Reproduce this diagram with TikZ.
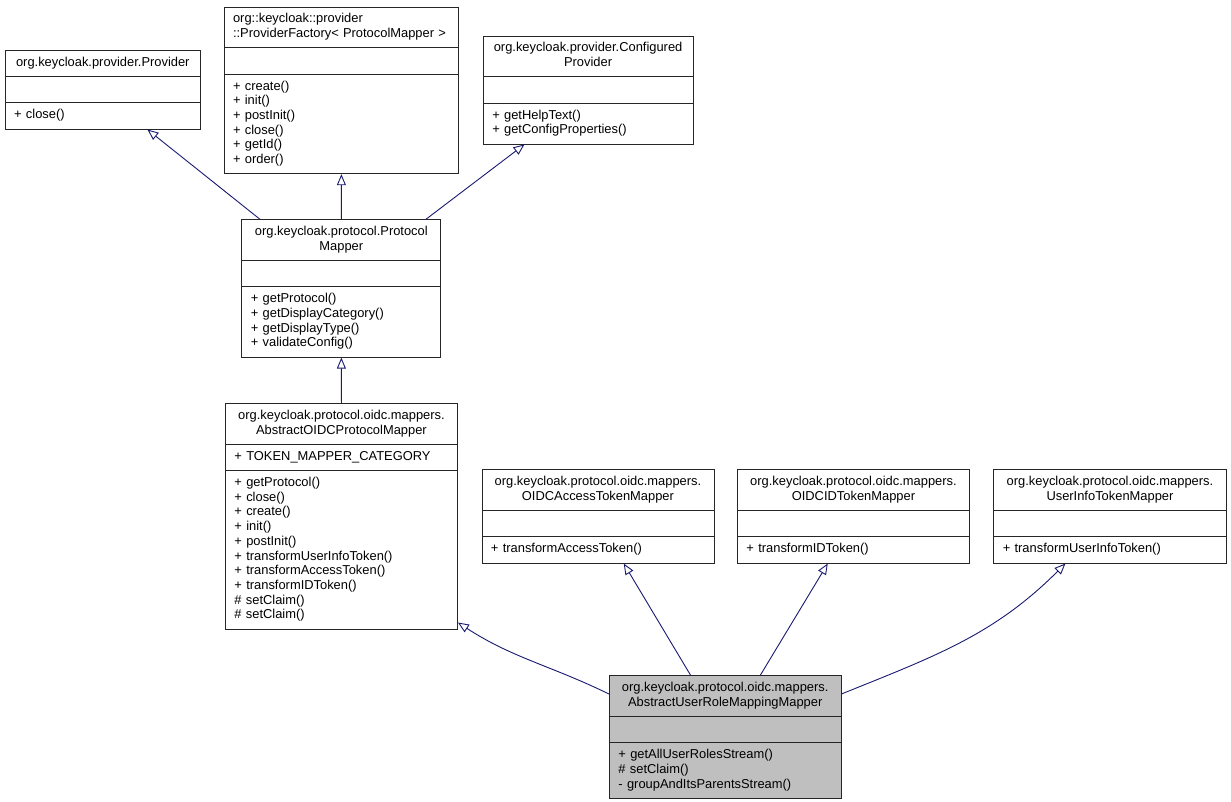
\documentclass[tikz,border=0pt]{standalone}
\usepackage{fontspec}
\setmainfont{Liberation Sans}
\usepackage{tikz}
\usetikzlibrary{shapes.multipart,arrows.meta}
\definecolor{edgeblue}{HTML}{191970}
\definecolor{classgray}{HTML}{BFBFBF}
\newcommand{\umlpart}[1]{\strut#1\strut\par}

\begin{document}
\begin{tikzpicture}[x=1pt, y=-1pt,
	umlclass/.style={rectangle split, rectangle split parts=3, draw=black!85, line width=0.9pt, anchor=north west, inner xsep=9pt, inner ysep=5.3pt, font=\fontsize{12.9}{14.7}\selectfont},
	inherit/.style={color=edgeblue, line width=0.9pt, -{Triangle[open, length=11pt, width=9pt]}}
	]
	\useasboundingbox (0,0) rectangle (1231,801);
	\node[umlclass, text width=177.3pt] (prov) at (4.7,50)
		{\centering\umlpart{org.keycloak.provider.Provider}
		\nodepart{two}\umlpart{}
		\nodepart{three}\umlpart{+ close()}};
	\node[umlclass, text width=216.7pt] (pfac) at (223.6,6.5)
		{\umlpart{org::keycloak::provider\\::ProviderFactory< ProtocolMapper >}
		\nodepart{two}\umlpart{}
		\nodepart{three}\umlpart{+ create()\\+ init()\\+ postInit()\\+ close()\\+ getId()\\+ order()}};
	\node[umlclass, text width=191.7pt] (cprov) at (482.8,35.5)
		{\centering\umlpart{org.keycloak.provider.Configured\\Provider}
		\nodepart{two}\umlpart{}
		\nodepart{three}\umlpart{+ getHelpText()\\+ getConfigProperties()}};
	\node[umlclass, text width=181pt] (pmap) at (241.4,219.3)
		{\centering\umlpart{org.keycloak.protocol.Protocol\\Mapper}
		\nodepart{two}\umlpart{}
		\nodepart{three}\umlpart{+ getProtocol()\\+ getDisplayCategory()\\+ getDisplayType()\\+ validateConfig()}};
	\node[umlclass, text width=214pt] (aoidc) at (225,403)
		{\centering\umlpart{org.keycloak.protocol.oidc.mappers.\\AbstractOIDCProtocolMapper}
		\nodepart{two}\umlpart{+ TOKEN\_MAPPER\_CATEGORY}
		\nodepart{three}\umlpart{+ getProtocol()\\+ close()\\+ create()\\+ init()\\+ postInit()\\+ transformUserInfoToken()\\+ transformAccessToken()\\+ transformIDToken()\\\# setClaim()\\\# setClaim()}};
	\node[umlclass, text width=214pt] (oacc) at (481.5,469.3)
		{\centering\umlpart{org.keycloak.protocol.oidc.mappers.\\OIDCAccessTokenMapper}
		\nodepart{two}\umlpart{}
		\nodepart{three}\umlpart{+ transformAccessToken()}};
	\node[umlclass, text width=214pt] (oid) at (737,469.3)
		{\centering\umlpart{org.keycloak.protocol.oidc.mappers.\\OIDCIDTokenMapper}
		\nodepart{two}\umlpart{}
		\nodepart{three}\umlpart{+ transformIDToken()}};
	\node[umlclass, text width=214.4pt] (uinfo) at (993.3,469.3)
		{\centering\umlpart{org.keycloak.protocol.oidc.mappers.\\UserInfoTokenMapper}
		\nodepart{two}\umlpart{}
		\nodepart{three}\umlpart{+ transformUserInfoToken()}};
	\node[umlclass, text width=213.5pt, fill=classgray] (aurmm) at (609,675)
		{\centering\umlpart{org.keycloak.protocol.oidc.mappers.\\AbstractUserRoleMappingMapper}
		\nodepart{two}\umlpart{}
		\nodepart{three}\umlpart{+ getAllUserRolesStream()\\\# setClaim()\\- groupAndItsParentsStream()}};
	\path[inherit]
	([xshift=18.6pt]pmap.north west) edge ([xshift=44.6pt]prov.south)
	(pmap.north) edge (pfac.south)
	([xshift=-15.4pt]pmap.north east) edge ([xshift=-63.6pt]cprov.south)
	(aoidc.north) edge (pmap.south)
	([yshift=-19pt]aurmm.north west) edge[out=154, in=-33] ([yshift=7pt]aoidc.south east)
	([xshift=-34.75pt]aurmm.north) edge ([xshift=25.8pt]oacc.south)
	([xshift=35.25pt]aurmm.north) edge ([xshift=-25.7pt]oid.south)
	([yshift=-19pt]aurmm.north east) edge[out=22, in=-135] ([xshift=-44.5pt]uinfo.south)
	;
\end{tikzpicture}
\end{document}
